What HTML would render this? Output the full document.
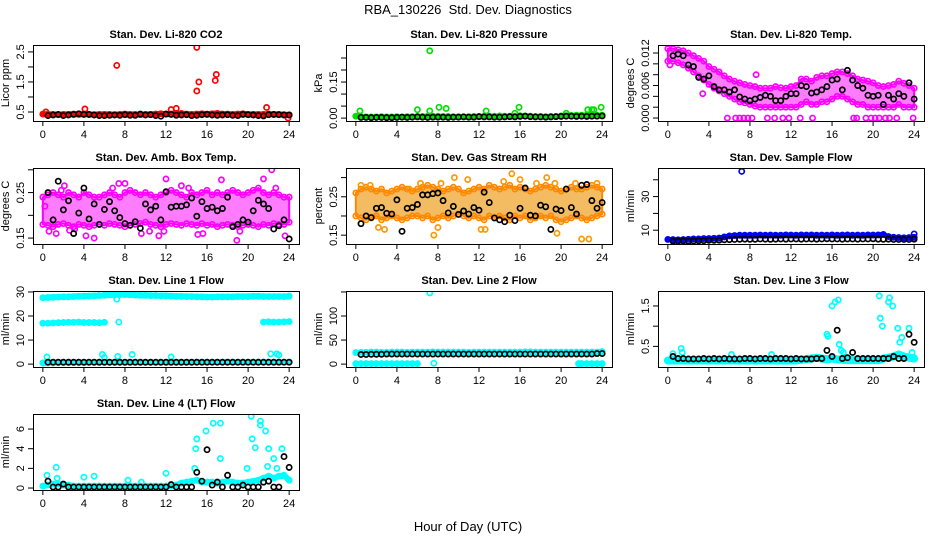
<!DOCTYPE html>
<html><head><meta charset="utf-8"><style>
html,body{margin:0;padding:0;background:#fff;}
svg{display:block;font-family:"Liberation Sans",Arial,sans-serif;}
</style></head><body>
<svg id="chart" width="936" height="540" viewBox="0 0 936 540" xmlns="http://www.w3.org/2000/svg">
<rect width="936" height="540" fill="#fff"/>
<text x="468" y="14" text-anchor="middle" font-size="13">RBA_130226 &#160;Std. Dev. Diagnostics</text>
<text x="468" y="531" text-anchor="middle" font-size="13">Hour of Day (UTC)</text>
</svg>
<script>
const xTicks=[0,4,8,12,16,20,24];
// CO2
const co2Band=[0.43,0.42,0.42,0.41,0.42,0.42,0.43,0.42,0.43,0.42,0.41,0.42,0.42,0.42,0.41,0.42,0.43,0.42,0.42,0.41,0.42,0.42,0.43,0.44,0.43,0.43,0.44,0.45,0.43,0.42,0.43,0.44,0.43,0.44,0.45,0.43,0.43,0.42,0.43,0.44,0.42,0.42,0.42,0.42,0.43,0.42,0.42,0.41,0.4];
const co2Black=[0.38,0.4,0.42,0.38,0.4,0.42,0.44,0.42,0.42,0.4,0.38,0.38,0.39,0.4,0.39,0.41,0.39,0.39,0.43,0.4,0.41,0.38,0.36,0.43,0.42,0.39,0.4,0.41,0.38,0.39,0.41,0.42,0.4,0.39,0.4,0.41,0.39,0.38,0.42,0.41,0.4,0.38,0.37,0.41,0.42,0.41,0.4,0.4];
const co2OutX=[7.2,15,15,15.2,16.8,16.9,13,21.8,12.5,4.1,0.3,23.9];
const co2OutY=[2.05,2.65,1.2,1.5,1.55,1.75,0.62,0.65,0.58,0.6,0.5,0.3];
// Pressure
const pBand=[0.008,0.006,0.005,0.005,0.005,0.006,0.005,0.005,0.006,0.005,0.006,0.006,0.007,0.007,0.008,0.008,0.008,0.007,0.007,0.006,0.006,0.006,0.006,0.007,0.007,0.008,0.008,0.008,0.009,0.008,0.008,0.008,0.01,0.009,0.008,0.007,0.007,0.006,0.007,0.007,0.009,0.01,0.011,0.012,0.012,0.013,0.013,0.012,0.012];
const pBlack=[0.003,0.003,0.002,0.003,0.003,0.002,0.002,0.003,0.004,0.003,0.004,0.005,0.004,0.003,0.004,0.004,0.004,0.003,0.004,0.004,0.005,0.004,0.004,0.006,0.005,0.005,0.004,0.004,0.005,0.006,0.005,0.007,0.008,0.006,0.005,0.005,0.004,0.005,0.006,0.007,0.008,0.008,0.007,0.008,0.007,0.008,0.008,0.009];
const pOutX=[0.4,6,7.2,7.2,8.1,8.8,12.7,15.9,22.6,23,23.2,23.9,15.5,20.5];
const pOutY=[0.03,0.035,0.03,0.28,0.045,0.04,0.03,0.045,0.035,0.035,0.035,0.045,0.02,0.02];
// Li-820 temp
const tHi=[0.0128,0.0128,0.0126,0.0124,0.012,0.0115,0.011,0.0105,0.0095,0.009,0.0085,0.0078,0.0072,0.0068,0.0065,0.0062,0.006,0.0058,0.0055,0.0055,0.0055,0.0058,0.0056,0.0055,0.0058,0.006,0.0072,0.0072,0.0068,0.0075,0.0078,0.0078,0.0082,0.0085,0.0085,0.0082,0.0078,0.0072,0.007,0.0068,0.0065,0.006,0.0058,0.006,0.0062,0.0068,0.0064,0.006,0.0055];
const tLo=[0.0105,0.0105,0.0102,0.0098,0.0092,0.0085,0.0078,0.007,0.0062,0.0055,0.005,0.0045,0.004,0.0035,0.003,0.0028,0.0025,0.0022,0.002,0.002,0.002,0.002,0.002,0.002,0.002,0.002,0.0025,0.003,0.0025,0.0025,0.003,0.003,0.0035,0.004,0.004,0.0035,0.003,0.0025,0.0025,0.002,0.002,0.002,0.002,0.002,0.002,0.0025,0.002,0.002,0.002];
const tBlack=[0.0115,0.0118,0.0115,0.0098,0.0095,0.0075,0.0072,0.0078,0.0058,0.0052,0.0052,0.0048,0.0052,0.0039,0.0035,0.0032,0.0035,0.0038,0.0042,0.004,0.0032,0.0032,0.004,0.0045,0.0045,0.006,0.0058,0.0046,0.0048,0.0052,0.0058,0.007,0.0072,0.0052,0.0088,0.007,0.006,0.0055,0.0042,0.004,0.0042,0.0025,0.0042,0.0035,0.0045,0.004,0.0065,0.0035];
const tOutX=[5.8,6.6,7,7.4,7.8,8.2,9.7,10.4,11.2,11.8,12.9,14.1,18.1,18.4,19.3,19.8,20.2,20.6,21.2,21.6,22.3,23.9,8.6,3.4,0.2];
const tOutY=[0,0,0,0,0,0,0,0,0,0,0,0,0,0,0,0,0,0,0,0,0,0,0.008,0.0045,0.0098];
// Amb box temp
const ambHi=[0.24,0.245,0.25,0.245,0.24,0.25,0.245,0.24,0.25,0.245,0.24,0.24,0.245,0.25,0.245,0.24,0.25,0.255,0.25,0.245,0.25,0.245,0.24,0.245,0.25,0.255,0.25,0.245,0.24,0.25,0.245,0.25,0.255,0.245,0.25,0.245,0.25,0.255,0.25,0.245,0.25,0.255,0.26,0.25,0.245,0.25,0.245,0.24,0.24];
const ambLo=[0.18,0.178,0.175,0.18,0.182,0.178,0.175,0.18,0.178,0.175,0.178,0.18,0.178,0.182,0.18,0.178,0.175,0.178,0.18,0.182,0.185,0.18,0.178,0.175,0.18,0.182,0.18,0.178,0.182,0.18,0.178,0.182,0.178,0.18,0.175,0.178,0.18,0.178,0.175,0.178,0.18,0.178,0.175,0.18,0.178,0.182,0.18,0.18,0.185];
const ambOutX=[0.6,1.3,1.8,2.6,4.2,5,8,9.6,10.4,11.3,11.8,12,13.5,15.1,15.6,17.4,18.9,19.2,22.3,22.7,23.6,21.5,14.2,6.8,3.1,0.2,2.1,7.4];
const ambOutY=[0.165,0.16,0.255,0.167,0.155,0.15,0.27,0.16,0.165,0.155,0.165,0.28,0.265,0.158,0.16,0.278,0.145,0.165,0.3,0.26,0.155,0.28,0.26,0.26,0.17,0.22,0.265,0.27];
const ambBlack=[0.25,0.19,0.275,0.212,0.232,0.16,0.205,0.26,0.192,0.225,0.18,0.213,0.23,0.21,0.195,0.182,0.178,0.186,0.172,0.225,0.212,0.22,0.19,0.252,0.218,0.22,0.22,0.223,0.238,0.198,0.23,0.215,0.218,0.21,0.215,0.24,0.175,0.18,0.19,0.185,0.21,0.233,0.225,0.215,0.17,0.177,0.19,0.148];
// Gas stream RH
const rhHi=[0.26,0.27,0.275,0.27,0.265,0.27,0.26,0.265,0.27,0.275,0.27,0.265,0.27,0.275,0.28,0.275,0.27,0.265,0.27,0.275,0.27,0.26,0.265,0.27,0.275,0.27,0.28,0.275,0.27,0.275,0.28,0.27,0.275,0.27,0.265,0.27,0.275,0.28,0.275,0.27,0.265,0.27,0.275,0.27,0.27,0.275,0.28,0.275,0.27];
const rhLo=[0.2,0.195,0.19,0.195,0.2,0.19,0.195,0.2,0.195,0.19,0.195,0.2,0.2,0.195,0.2,0.19,0.195,0.2,0.195,0.2,0.205,0.2,0.195,0.2,0.195,0.19,0.2,0.195,0.2,0.195,0.19,0.2,0.195,0.2,0.19,0.195,0.2,0.195,0.2,0.19,0.185,0.19,0.195,0.2,0.195,0.19,0.195,0.2,0.205];
const rhOutX=[7.6,8,9.6,10.9,12.2,12.6,14.4,15.2,16,17.6,18.6,19.4,19.6,21.4,22,22.7,23.5,2.2,2.8,0.5,1.4,5.2,6.3,8.3];
const rhOutY=[0.15,0.17,0.3,0.295,0.165,0.165,0.29,0.31,0.295,0.285,0.3,0.285,0.155,0.285,0.14,0.14,0.285,0.17,0.165,0.28,0.28,0.27,0.285,0.285];
const rhBlack=[0.18,0.2,0.196,0.22,0.222,0.207,0.205,0.242,0.16,0.22,0.222,0.23,0.255,0.255,0.258,0.26,0.24,0.208,0.225,0.204,0.213,0.205,0.222,0.215,0.262,0.235,0.195,0.19,0.185,0.202,0.188,0.22,0.273,0.202,0.2,0.228,0.224,0.165,0.218,0.214,0.27,0.222,0.205,0.28,0.282,0.24,0.22,0.235];
// Sample flow
const sfBand=[4.5,4.4,4.3,4.4,4.6,4.8,4.8,5,5,5.2,5.3,6,6.6,6.8,7,7,7,7,7.1,7,7.1,7,7,7.2,7.1,7,7.2,7.1,7.2,7,7.1,7,7.2,7,7.1,7.2,7,7.1,7,7.2,7.1,7.2,7.5,6.2,5.8,5.6,5.5,5.6,5.8];
const sfBlack=[3.5,3.5,3.6,3.4,3.6,3.7,3.8,4,4,4.1,4.3,4.4,4.5,4.6,4.7,4.6,4.6,4.8,4.7,4.6,4.7,4.8,4.7,4.8,4.8,4.7,4.8,4.8,4.7,4.8,4.9,4.8,4.8,4.7,4.8,4.8,4.7,4.8,4.8,4.9,4.7,4.6,4.7,4.5,4.5,4.5,4.5,4.7];
const sfOutX=[7.2,24];
const sfOutY=[45,7.8];
// Line 1 flow
const l1Top=[27.6,27.7,27.8,27.9,28,28,28.1,28.2,28.3,28.3,28.4,28.5,28.6,28.8,28.8,28.9,28.9,28.8,28.7,28.6,28.6,28.5,28.5,28.4,28.4,28.3,28.2,28.2,28.1,28.1,28,28,27.9,27.9,28,28,28,28,28.1,28.1,28.1,28.2,28.2,28.1,28.1,28.1,28.1,28.1,28.2];
const l1Low=[0.5,0.5,0.5,0.6,0.6,0.6,0.6,0.6,0.6,0.7,0.7,0.7,0.7,0.7,0.7,0.7,0.7,0.7,0.7,0.7,0.7,0.7,0.7,0.7,0.7,0.7,0.7,0.7,0.7,0.7,0.8,0.8,0.8,0.8,0.8,0.8,0.8,0.8,0.8,0.8,0.8,0.8,0.8,0.8,0.8,0.8,0.8,0.8,0.8];
const l1MidAX=[0,0.5,1,1.5,2,2.5,3,3.5,4,4.5,5,5.5,6];
const l1MidA=[17,17,17.1,17.2,17.3,17.4,17.4,17.5,17.3,17.3,17.3,17.2,17.4];
const l1MidBX=[21.5,22,22.5,23,23.5,24];
const l1MidB=[17.5,17.6,17.5,17.5,17.6,17.7];
const l1Black=[0.8,0.8,0.8,0.8,0.8,0.8,0.8,0.8,0.8,0.8,0.8,0.8,0.8,0.8,0.8,0.8,0.8,0.8,0.8,0.8,0.8,0.8,0.8,0.8,0.8,0.8,0.8,0.8,0.8,0.8,0.8,0.8,0.8,0.8,0.8,0.8,0.8,0.8,0.8,0.8,0.8,0.8,0.8,0.8,0.8,0.8,0.8,0.8];
const l1OutX=[0.1,0.4,5.8,6,7.3,7.4,8.7,12.5,22.2,22.8,23,7.2,24];
const l1OutY=[0.5,3,4,2.8,3.2,17.5,4,3,4.3,4.3,3.8,27,28.3];
// Line 2 flow
const l2Band=[24,24.5,24.5,25,25,24.5,24.5,25,25,25,24.5,25,25,25,25,25.5,25,25,25,25,25,25,24.5,25,25,25,25,25,25,25,25,25,25,25.5,25.5,25,25,25,25,25,25,25,25,25,25,25,25,25,26];
const l2LowAX=[0,0.5,1,1.5,2,2.5,3,3.5,4,4.5,5,5.5,6];
const l2LowA=[1,1,1,1,1,1,1,1,1,1,1,1,1];
const l2LowBX=[21.7,22,22.5,23,23.5,24];
const l2LowB=[1,1,1,1,1,1];
const l2Black=[20,20,20.5,20.5,20.5,21,21,21,21,21,21,21,21,21,21,21,21,21,21,21,21,21,21,21,21,21,21,21,21,21,21,21,21,21,21,21,21,21,21,21,21,21,21,21,21,21,22,22];
const l2OutX=[7.2,7.6];
const l2OutY=[148,2];
// Line 3 flow
const l3Band=[0.15,0.15,0.15,0.15,0.15,0.15,0.15,0.15,0.15,0.15,0.15,0.15,0.15,0.15,0.15,0.15,0.15,0.15,0.15,0.15,0.15,0.15,0.15,0.15,0.15,0.15,0.17,0.18,0.2,0.22,0.2,0.18,0.2,0.18,0.17,0.16,0.16,0.16,0.16,0.16,0.16,0.16,0.2,0.22,0.25,0.3,0.25,0.22,0.2];
const l3Black=[0.25,0.2,0.2,0.19,0.19,0.19,0.2,0.19,0.2,0.19,0.2,0.19,0.19,0.19,0.2,0.2,0.19,0.2,0.2,0.19,0.2,0.2,0.2,0.19,0.2,0.19,0.19,0.19,0.2,0.2,0.4,0.25,0.9,0.2,0.22,0.35,0.2,0.2,0.2,0.2,0.2,0.2,0.2,0.25,0.2,0.2,0.8,0.6];
const l3OutX=[15.5,15.6,16,16.3,16.6,16.7,20.6,20.7,20.9,21.5,21.6,21.9,22.4,22.8,23.5,23.8,0.5,1.3,1.4,6.2,10.1,16.9,17.1,22.6];
const l3OutY=[0.8,0.75,1.5,1.6,1.65,0.55,1.75,1.2,1,1.6,1.7,1.5,0.95,0.72,0.95,0.35,0.32,0.45,0.35,0.3,0.3,0.4,0.35,0.6];
// Line 4 flow
const l4Band=[0.2,0.3,0.4,0.4,0.3,0.3,0.2,0.2,0.2,0.2,0.2,0.2,0.2,0.2,0.2,0.2,0.2,0.2,0.2,0.2,0.2,0.2,0.2,0.2,0.2,0.2,0.3,0.5,0.6,0.7,0.8,0.6,0.6,0.6,0.5,0.6,0.7,0.6,0.5,0.5,0.6,0.7,0.8,1,1.2,1,1.2,1.3,0.8];
const l4Black=[0.7,0.1,0.1,0.4,0.1,0.1,0.1,0.1,0.1,0.1,0.1,0.1,0.1,0.1,0.1,0.1,0.1,0.1,0.1,0.1,0.1,0.1,0.1,0.1,0.35,0.1,0.1,0.1,0.1,1.6,0.7,3.9,0.3,0.6,0.1,1.3,0.1,0.1,0.3,0.1,0.1,0.1,0.6,0.7,0.1,0.1,3.2,2.1];
const l4OutX=[0.4,1.3,1.4,4,5,8.3,9.6,12,14.8,14.9,15,15.9,16.6,17.3,17.3,19.9,20.3,20.4,20.7,21.2,21.2,21.7,22,22.5,22.8,23.3,21.9];
const l4OutY=[1.3,2.1,1,1.1,1.2,0.8,0.6,1.5,2,4,5,5.8,6.6,6.6,3,2,7.3,5,4.1,6.8,6.4,5.8,4,3,2,4,2.2];

const svg=document.getElementById('chart');
const NS='http://www.w3.org/2000/svg';
function mk(tag,attrs,parent){const e=document.createElementNS(NS,tag);for(const k in attrs)e.setAttribute(k,attrs[k]);(parent||svg).appendChild(e);return e;}

function panel(col,row,title,ylab,ylim,yTicks,yLabels,name){
  const L=[33,346,658][col],T=[45,168,291,414][row],W=266,H=76;
  const g=mk('g',{});
  
  
  const sx=v=>L+W*(v+0.96)/25.92;
  const sy=v=>T+H-(v-ylim[0])/(ylim[1]-ylim[0])*H;
  const t=mk('text',{x:L+W/2,y:T-7,'text-anchor':'middle','font-size':'11','font-weight':'bold'},g);t.textContent=title;
  
  
  const yl=mk('text',{x:0,y:0,'text-anchor':'middle','font-size':'11',transform:`translate(${L-24},${T+H/2}) rotate(-90)`},g);yl.textContent=ylab;
  
  
  xTicks.forEach(v=>{
    const x=sx(v);
    mk('line',{x1:x,x2:x,y1:T+H,y2:T+H+5,stroke:'#000'},g);
    const lb=mk('text',{x:x,y:T+H+17,'text-anchor':'middle','font-size':'11'},g);lb.textContent=v;
    
    
  });
  mk('line',{x1:sx(0),x2:sx(24),y1:T+H+0.5,y2:T+H+0.5,stroke:'#000'},g);
  yTicks.forEach((v,i)=>{
    const y=sy(v);
    mk('line',{x1:L-5,x2:L,y1:y,y2:y,stroke:'#000'},g);
    if(yLabels[i]){
      const lb=mk('text',{x:0,y:0,'text-anchor':'middle','font-size':'11',transform:`translate(${L-9},${y}) rotate(-90)`},g);lb.textContent=yLabels[i];
      
      
    }
  });
  const clip='clip'+name;
  const cp=mk('clipPath',{id:clip},g);mk('rect',{x:L,y:T,width:W,height:H},cp);
  const plot=mk('g',{'clip-path':`url(#${clip})`},g);
  const frame=mk('rect',{x:L+0.5,y:T+0.5,width:W,height:H,fill:'none',stroke:'#000'},g);
  
  
  return {sx,sy,plot,frame,g};
}
function pts(P,xs,ys,color,nm){
  for(let i=0;i<ys.length&&i<xs.length;i++){
    const c=mk('circle',{cx:P.sx(xs[i]),cy:P.sy(ys[i]),r:2.6,fill:'none',stroke:color,'stroke-width':1.7},P.plot);
    
    
  }
}
function halfHours(n,start){const a=[];for(let i=0;i<n;i++)a.push(start+i*0.5);return a;}
function band(P,xs,ys,color,w,nm){
  const d=ys.map((v,i)=>P.sx(xs[i])+','+P.sy(v)).join(' ');
  const pl=mk('polyline',{points:d,fill:'none',stroke:color,'stroke-width':w,'stroke-linejoin':'round','stroke-linecap':'round'},P.plot);
  
  
  pts(P,xs,ys,color,nm+'-point');
}
function cloud(P,hi,lo,color,fill,nm){
  const xs=halfHours(hi.length,0);
  const up=hi.map((v,i)=>P.sx(xs[i])+','+P.sy(v));
  const dn=lo.map((v,i)=>P.sx(xs[i])+','+P.sy(v)).reverse();
  const pg=mk('polygon',{points:up.concat(dn).join(' '),fill:fill,'fill-opacity':0.7,stroke:color,'stroke-width':2,'stroke-linejoin':'round'},P.plot);
  
  
  pts(P,xs,hi,color,nm+'-point');
  pts(P,xs,lo,color,nm+'-point');
}
const H49=halfHours(49,0), B48=halfHours(48,0.5);

let P;
P=panel(0,0,'Stan. Dev. Li-820 CO2','Licor ppm',[0.2,2.73],[0.5,1,1.5,2,2.5],['0.5','','1.5','','2.5'],'co2');
band(P,H49,co2Band,'#ff0000',6,'co2-band');pts(P,co2OutX,co2OutY,'#ff0000','co2-point');pts(P,B48,co2Black,'#000','co2-hourly-point');
P=panel(1,0,'Stan. Dev. Li-820 Pressure','kPa',[-0.012,0.304],[0,0.05,0.1,0.15,0.2,0.25],['0.00','','','0.15','',''],'pressure');
band(P,H49,pBand,'#00e000',5,'pressure-band');pts(P,pOutX,pOutY,'#00e000','pressure-point');pts(P,B48,pBlack,'#000','pressure-hourly-point');
P=panel(2,0,'Stan. Dev. Li-820 Temp.','degrees C',[-0.00055,0.01348],[0,0.002,0.004,0.006,0.008,0.01,0.012],['0.000','','','0.006','','','0.012'],'li820-temp');
cloud(P,tHi,tLo,'#ff00ff','#ff44ff','li820-temp-cloud');pts(P,tOutX,tOutY,'#ff00ff','li820-temp-point');pts(P,B48,tBlack,'#000','li820-temp-hourly-point');
P=panel(0,1,'Stan. Dev. Amb. Box Temp.','degrees C',[0.137,0.304],[0.15,0.2,0.25,0.3],['0.15','','0.25',''],'amb-temp');
cloud(P,ambHi,ambLo,'#ff00ff','#ff44ff','amb-temp-cloud');pts(P,ambOutX,ambOutY,'#ff00ff','amb-temp-point');pts(P,B48,ambBlack,'#000','amb-temp-hourly-point');
P=panel(1,1,'Stan. Dev. Gas Stream RH','percent',[0.127,0.325],[0.15,0.2,0.25,0.3],['0.15','','0.25',''],'rh');
cloud(P,rhHi,rhLo,'#ff8800','#f0a020','rh-cloud');pts(P,rhOutX,rhOutY,'#ff9900','rh-point');pts(P,B48,rhBlack,'#000','rh-hourly-point');
P=panel(2,1,'Stan. Dev. Sample Flow','ml/min',[1.8,47],[10,20,30,40],['10','','30',''],'sample-flow');
band(P,H49,sfBand,'#0000ff',5,'sample-flow-band');pts(P,sfOutX,sfOutY,'#0000ff','sample-flow-point');pts(P,B48,sfBlack,'#000','sample-flow-hourly-point');
P=panel(0,2,'Stan. Dev. Line 1 Flow','ml/min',[-1.2,30.4],[0,10,20,30],['0','10','20','30'],'line1');
band(P,H49,l1Top,'#00ffff',6,'line1-top-band');band(P,l1MidAX,l1MidA,'#00ffff',5,'line1-mid-band');band(P,l1MidBX,l1MidB,'#00ffff',5,'line1-mid-band');band(P,H49,l1Low,'#00ffff',4,'line1-low-band');
pts(P,l1OutX,l1OutY,'#00ffff','line1-point');pts(P,B48,l1Black,'#000','line1-hourly-point');
P=panel(1,2,'Stan. Dev. Line 2 Flow','ml/min',[-6,152],[0,50,100,150],['0','50','100',''],'line2');
band(P,H49,l2Band,'#00ffff',5,'line2-band');band(P,l2LowAX,l2LowA,'#00ffff',5,'line2-low-band');band(P,l2LowBX,l2LowB,'#00ffff',5,'line2-low-band');
pts(P,l2OutX,l2OutY,'#00ffff','line2-point');pts(P,B48,l2Black,'#000','line2-hourly-point');
P=panel(2,2,'Stan. Dev. Line 3 Flow','ml/min',[-0.01,1.87],[0.5,1,1.5],['0.5','','1.5'],'line3');
band(P,H49,l3Band,'#00ffff',8,'line3-band');pts(P,l3OutX,l3OutY,'#00ffff','line3-point');pts(P,B48,l3Black,'#000','line3-hourly-point');
P=panel(0,3,'Stan. Dev. Line 4 (LT) Flow','ml/min',[-0.2,7.53],[0,2,4,6],['0','2','4','6'],'line4');
band(P,H49,l4Band,'#00ffff',6,'line4-band');pts(P,l4OutX,l4OutY,'#00ffff','line4-point');pts(P,B48,l4Black,'#000','line4-hourly-point');
</script>
</body></html>
